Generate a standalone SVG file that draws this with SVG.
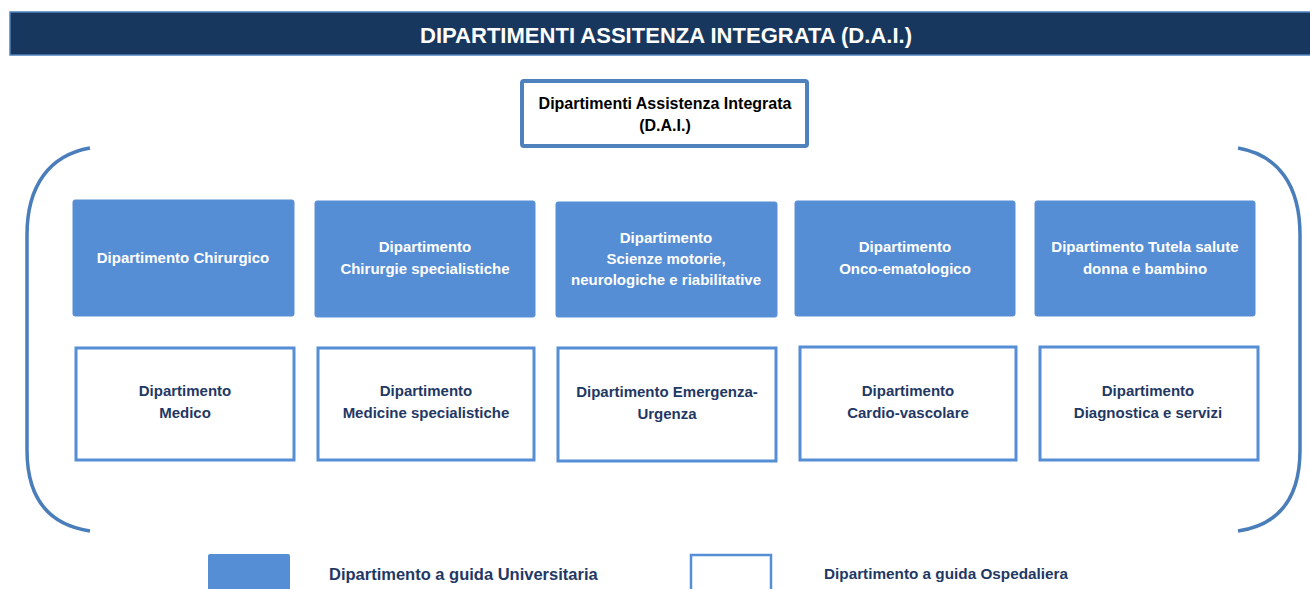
<svg xmlns="http://www.w3.org/2000/svg" width="1310" height="589" viewBox="0 0 1310 589">
<style>
.t{font-family:"Liberation Sans",Arial,sans-serif;font-weight:bold;text-anchor:middle}
.w{fill:#ffffff;font-size:15px}
.n{fill:#1f3864;font-size:15px}
.uni{fill:#558ed5;stroke:#5b8fd6;stroke-width:1}
.osp{fill:#ffffff;stroke:#558ed5;stroke-width:3}
.br{fill:none;stroke:#4a7ebb;stroke-width:3.5}
</style>
<rect width="1310" height="589" fill="#ffffff"/>
<g id="header">
<rect x="10" y="12" width="1302" height="43" fill="#17375e" stroke="#4f81bd" stroke-width="1.5"/>
<text x="666" y="43" class="t" style="fill:#ffffff;font-size:22px" textLength="492" lengthAdjust="spacingAndGlyphs">DIPARTIMENTI ASSITENZA INTEGRATA (D.A.I.)</text>
</g>
<g id="dai">
<rect x="522" y="81" width="285" height="65" rx="2" fill="#ffffff" stroke="#4f81bd" stroke-width="4"/>
<text x="665" y="109" class="t" style="fill:#000;font-size:16px">Dipartimenti Assistenza Integrata</text>
<text x="665" y="131" class="t" style="fill:#000;font-size:16px">(D.A.I.)</text>
</g>
<g id="connectors">
<path class="br" d="M90,148 C50,155 27,185 27,235 L27,450 C27,500 50,525 90,531"/>
<path class="br" d="M1238,148 C1278,155 1300,185 1300,235 L1300,450 C1300,500 1278,525 1238,531"/>
</g>
<g id="chirurgico">
<rect class="uni" x="73" y="200" width="221" height="116" rx="2"/>
<text class="t w" x="183" y="263">Dipartimento Chirurgico</text>
</g>
<g id="chirurgie-spec">
<rect class="uni" x="315" y="201" width="220" height="116" rx="2"/>
<text class="t w" x="425" y="252">Dipartimento</text>
<text class="t w" x="425" y="274">Chirurgie specialistiche</text>
</g>
<g id="scienze-motorie">
<rect class="uni" x="556" y="202" width="221" height="115" rx="2"/>
<text class="t w" x="666" y="243">Dipartimento</text>
<text class="t w" x="666" y="264">Scienze motorie,</text>
<text class="t w" x="666" y="285">neurologiche e riabilitative</text>
</g>
<g id="onco">
<rect class="uni" x="795" y="201" width="220" height="115" rx="2"/>
<text class="t w" x="905" y="252">Dipartimento</text>
<text class="t w" x="905" y="274">Onco-ematologico</text>
</g>
<g id="donna-bambino">
<rect class="uni" x="1035" y="201" width="220" height="115" rx="2"/>
<text class="t w" x="1145" y="252">Dipartimento Tutela salute</text>
<text class="t w" x="1145" y="274">donna e bambino</text>
</g>
<g id="medico">
<rect class="osp" x="76" y="348" width="218" height="112"/>
<text class="t n" x="185" y="396">Dipartimento</text>
<text class="t n" x="185" y="418">Medico</text>
</g>
<g id="medicine-spec">
<rect class="osp" x="318" y="348" width="216" height="112"/>
<text class="t n" x="426" y="396">Dipartimento</text>
<text class="t n" x="426" y="418">Medicine specialistiche</text>
</g>
<g id="emergenza">
<rect class="osp" x="558" y="348" width="218" height="113"/>
<text class="t n" x="667" y="397">Dipartimento Emergenza-</text>
<text class="t n" x="667" y="419">Urgenza</text>
</g>
<g id="cardio">
<rect class="osp" x="800" y="347" width="216" height="113"/>
<text class="t n" x="908" y="396">Dipartimento</text>
<text class="t n" x="908" y="418">Cardio-vascolare</text>
</g>
<g id="diagnostica">
<rect class="osp" x="1040" y="347" width="218" height="113"/>
<text class="t n" x="1148" y="396">Dipartimento</text>
<text class="t n" x="1148" y="418">Diagnostica e servizi</text>
</g>
<g id="legend">
<rect x="208" y="554" width="82" height="40" rx="2" fill="#558ed5"/>
<text class="t" x="329" y="580" style="text-anchor:start;fill:#1f3864;font-size:16.5px">Dipartimento a guida Universitaria</text>
<rect x="691" y="555" width="80" height="40" fill="#ffffff" stroke="#558ed5" stroke-width="2.5"/>
<text class="t" x="824" y="579" style="text-anchor:start;fill:#1f3864;font-size:15px" textLength="244" lengthAdjust="spacingAndGlyphs">Dipartimento a guida Ospedaliera</text>
</g>
</svg>
